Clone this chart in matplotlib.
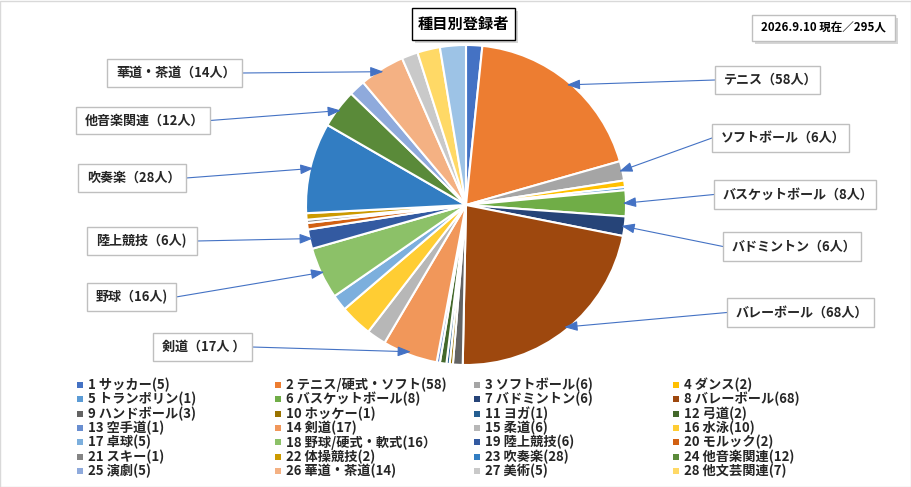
import matplotlib
matplotlib.use("Agg")
import matplotlib.pyplot as plt
from matplotlib.patches import Rectangle
import numpy as np

plt.rcParams['font.family'] = ['Noto Sans CJK JP', 'DejaVu Sans']

# ---------------- data ----------------
legend_names = ["1 サッカー", "2 テニス/硬式・ソフト", "3 ソフトボール", "4 ダンス",
                "5 トランポリン", "6 バスケットボール", "7 バドミントン", "8 バレーボール",
                "9 ハンドボール", "10 ホッケー", "11 ヨガ", "12 弓道",
                "13 空手道", "14 剣道", "15 柔道", "16 水泳",
                "17 卓球", "18 野球/硬式・軟式", "19 陸上競技", "20 モルック",
                "21 スキー", "22 体操競技", "23 吹奏楽", "24 他音楽関連",
                "25 演劇", "26 華道・茶道", "27 美術", "28 他文芸関連"]
values = [5, 58, 6, 2, 1, 8, 6, 68, 3, 1, 1, 2, 1, 17, 6, 10,
          5, 16, 6, 2, 1, 2, 28, 12, 5, 14, 5, 7]
unlisted_value = 8          # unlabeled slice at the end (not in legend)

colors = ["#4472C4", "#ED7D31", "#A5A5A5", "#FFC000", "#5B9BD5", "#70AD47",
          "#264478", "#9E480E", "#636363", "#997300", "#255E91", "#43682B",
          "#698ED0", "#F1975A", "#B7B7B7", "#FFCD33", "#7CAFDD", "#8CC168",
          "#335AA1", "#D26012", "#848484", "#CC9A00", "#327DC2", "#5A8A39",
          "#8FAADC", "#F4B183", "#C9C9C9", "#FFD966"]
unlisted_color = "#9DC3E6"

# callout labels: category index -> text
callout_index = [1, 2, 5, 6, 7, 13, 17, 18, 22, 23, 25]
callout_text = ["テニス（58人）", "ソフトボール（6人）", "バスケットボール（8人）",
                "バドミントン（6人）", "バレーボール（68人）", "剣道（17人 ）",
                "野球（16人)", "陸上競技（6人)", "吹奏楽（28人）",
                "他音楽関連（12人）", "華道・茶道（14人）"]

title_text = "種目別登録者"
date_text = "2026.9.10 現在／295人"

# ---------------- layout ----------------
W, H = 912, 487
fig = plt.figure(figsize=(W / 100, H / 100), dpi=100)
fig.patch.set_facecolor("white")


def fx(x):
    return x / W


def fy(y):
    return 1 - y / H


def box(x0, y0, x1, y1, ec="#BFBFBF", lw=1.0, shadow=False, z=5):
    if shadow:
        fig.add_artist(Rectangle((fx(x0 + 3), fy(y1 + 3)), (x1 - x0) / W, (y1 - y0) / H,
                                 transform=fig.transFigure, facecolor="#BBBBBB",
                                 edgecolor="none", alpha=0.6, zorder=z - 0.5))
    fig.add_artist(Rectangle((fx(x0), fy(y1)), (x1 - x0) / W, (y1 - y0) / H,
                             transform=fig.transFigure, facecolor="white",
                             edgecolor=ec, linewidth=lw, zorder=z))


# outer border
fig.add_artist(Rectangle((0.5 / W, 0.5 / H), (W - 1.5) / W, (H - 1.5) / H,
                         transform=fig.transFigure, facecolor="none",
                         edgecolor="#D9D9D9", linewidth=1.0, zorder=0))

# pie
cx, cy, R = 466, 205, 160
ax = fig.add_axes([fx(cx - R), fy(cy + R), 2 * R / W, 2 * R / H])
all_vals = values + [unlisted_value]
all_cols = colors + [unlisted_color]
wedges, _ = ax.pie(all_vals, colors=all_cols, startangle=90, counterclock=False,
                   radius=1.0, wedgeprops=dict(edgecolor="white", linewidth=1.5))
ax.set_xlim(-1, 1)
ax.set_ylim(-1, 1)
ax.set_aspect("equal")
ax.axis("off")

# callout boxes (pixel layout)
callout_boxes = {
    1: (715, 66, 820, 94),
    2: (712, 124, 849, 152),
    5: (714, 180, 876, 209),
    6: (723, 232, 861, 261),
    7: (727, 298, 874, 327),
    13: (153, 333, 252, 361),
    17: (87, 283, 176, 311),
    18: (87, 227, 197, 255),
    22: (78, 164, 186, 192),
    23: (76, 107, 210, 134),
    25: (107, 59, 242, 87),
}

for idx, txt in zip(callout_index, callout_text):
    x0, y0, x1, y1 = callout_boxes[idx]
    box(x0, y0, x1, y1)
    fig.text(fx(x0 + 9), fy((y0 + y1) / 2), txt, fontsize=9.4, fontweight="bold",
             ha="left", va="center", color="#262626", zorder=6)
    w = wedges[idx]
    mid = np.deg2rad((w.theta1 + w.theta2) / 2)
    tip = (0.98 * np.cos(mid), 0.98 * np.sin(mid))
    if x0 > cx:
        start = (fx(x0), fy((y0 + y1) / 2))
    else:
        start = (fx(x1), fy((y0 + y1) / 2))
    ax.annotate("", xy=tip, xycoords="data", xytext=start,
                textcoords="figure fraction", annotation_clip=False,
                arrowprops=dict(arrowstyle="-|>,head_length=0.8,head_width=0.3",
                                color="#4472C4", lw=0.8, shrinkA=0, shrinkB=0))

# title box
box(412, 8, 515, 40, ec="black", lw=1.0, shadow=True)
fig.text(fx(463.5), fy(24), title_text, fontsize=11, fontweight="bold",
         ha="center", va="center", color="black", zorder=6)

# date box
box(752, 15, 895, 41, ec="#BFBFBF", lw=1.0, shadow=True)
fig.text(fx(823.5), fy(28), date_text, fontsize=8.3, fontweight="bold",
         ha="center", va="center", color="black", zorder=6)

# legend (4 columns, row-major)
col_x = [80, 278, 477, 676]
row_y0, row_dy = 385, 14.3
for i, (name, v) in enumerate(zip(legend_names, values)):
    c, r = i % 4, i // 4
    mx, my = col_x[c], row_y0 + r * row_dy
    fig.add_artist(Rectangle((fx(mx - 3), fy(my + 3)), 6 / W, 6 / H,
                             transform=fig.transFigure, facecolor=colors[i],
                             edgecolor="none", zorder=5))
    lab = f"{name}({v})" if i != 17 else f"{name}({v}）"
    fig.text(fx(mx + 8), fy(my), lab, fontsize=9.5, fontweight="bold",
             ha="left", va="center", color="#262626", zorder=6)

fig.savefig("out.png", dpi=100)
